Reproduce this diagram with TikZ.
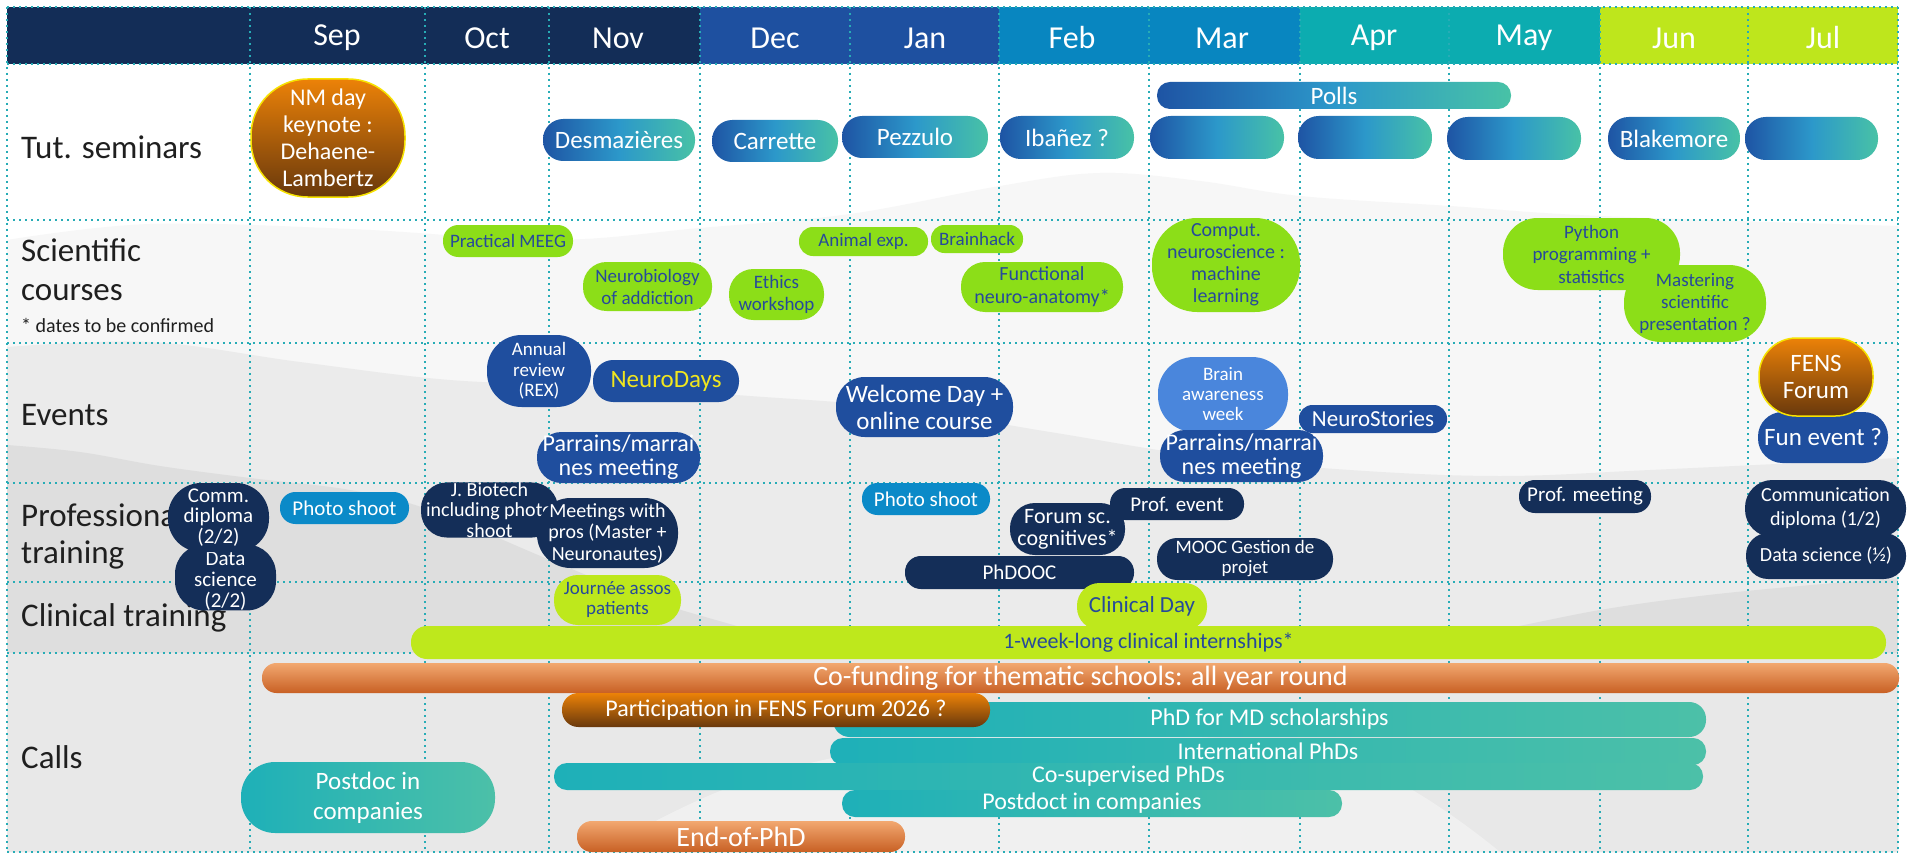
\documentclass[tikz,border=0pt]{standalone}
\usepackage{fontspec}
\setmainfont{Carlito}
\definecolor{hdNavy}{RGB}{19,45,87}
\definecolor{hdDJ}{RGB}{30,80,160}
\definecolor{hdFM}{RGB}{8,134,192}
\definecolor{hdAM}{RGB}{12,172,176}
\definecolor{hdJJ}{RGB}{190,230,28}
\definecolor{gridc}{RGB}{40,172,182}
\definecolor{tutA}{RGB}{30,84,164}
\definecolor{tutB}{RGB}{44,152,202}
\definecolor{tutC}{RGB}{72,194,166}
\definecolor{sciG}{RGB}{140,222,24}
\definecolor{clinG}{RGB}{190,232,28}
\definecolor{txtB}{RGB}{38,74,154}
\definecolor{evtB}{RGB}{31,78,158}
\definecolor{brainB}{RGB}{74,134,220}
\definecolor{photoB}{RGB}{11,138,200}
\definecolor{navyB}{RGB}{20,46,88}
\definecolor{orA}{RGB}{236,130,8}
\definecolor{orB}{RGB}{104,56,12}
\definecolor{yelB}{RGB}{246,226,0}
\definecolor{ndYel}{RGB}{240,230,30}
\definecolor{tealA}{RGB}{30,176,184}
\definecolor{tealB}{RGB}{76,192,168}
\definecolor{cfA}{RGB}{242,168,112}
\definecolor{cfB}{RGB}{200,96,36}
\newcommand\fsz[2]{\fontsize{#1}{#2}\selectfont}
\newcommand\pbox[7]{%
  \pgfmathsetmacro\pbw{#4-#3}%
  \pgfmathsetmacro\pbh{#6-#5}%
  \pgfmathsetmacro\pbr{0.48*min(\pbw,\pbh)}%
  \node[inner sep=0pt, minimum width=\pbw pt, minimum height=\pbh pt,
        rounded corners=\pbr pt, align=center, #2] (#1) at ({(#3+#4)/2},{(#5+#6)/2}) {#7};%
}
\begin{document}
\begin{tikzpicture}[x=1pt,y=-1pt,
  lbl/.style={font=\fsz{33}{38}, text=black!88, anchor=west, inner sep=0pt},
  mon/.style={font=\fsz{32}{36}, text=white, inner sep=0pt},
  gridln/.style={draw=gridc, line width=1.6pt, dash pattern=on 1.6pt off 4.4pt},
  tutbox/.style={left color=tutA, right color=tutC, middle color=tutB, text=white, font=\fsz{25}{28}},
  scibox/.style={fill=sciG, text=txtB, font=\fsz{19}{22}},
  clinbox/.style={fill=clinG, text=txtB},
  evtbox/.style={fill=evtB, text=white},
  navybox/.style={fill=navyB, text=white},
  orbox/.style={top color=orA, bottom color=orB, text=white, draw=yelB, line width=1.5pt},
  callbar/.style={left color=tealA, right color=tealB, text=white, font=\fsz{24}{27}},
  cfbox/.style={top color=cfA, bottom color=cfB, text=white}
]
\useasboundingbox (0,0) rectangle (1909,856);
\fill[white] (0,0) rectangle (1909,856);
% background mountains
\fill[black!3] plot[smooth, tension=0.6] coordinates {(7,240) (150,224) (350,229) (550,240) (700,228) (850,214) (1000,186) (1100,173) (1200,181) (1300,196) (1450,206) (1600,216) (1898,226)} -- (1898,852) -- (7,852) -- cycle;
\fill[black!8] plot[smooth, tension=0.6] coordinates {(7,347) (150,342) (300,362) (450,380) (600,386) (750,396) (900,408) (1050,432) (1200,456) (1350,470) (1500,476) (1650,470) (1898,458)} -- (1898,852) -- (7,852) -- cycle;
\fill[black!13] plot[smooth, tension=0.6] coordinates {(7,445) (80,452) (160,466) (250,478) (350,490) (430,510) (550,560) (650,600) (750,630) (820,653)} -- (820,852) -- (7,852) -- cycle;
\fill[black!13] plot[smooth, tension=0.6] coordinates {(1280,653) (1450,638) (1600,610) (1700,596) (1800,586) (1898,578)} -- (1898,852) -- (1280,852) -- cycle;
\fill[black!9] (7,653) rectangle (1898,852);
\fill[white, opacity=0.35] plot[smooth, tension=0.7] coordinates {(600,852) (750,780) (950,740) (1150,735) (1350,760) (1500,852)} -- cycle;
% header
\fill[hdNavy] (7,7) rectangle (700,64);
\fill[hdDJ] (700,7) rectangle (999,64);
\fill[hdFM] (999,7) rectangle (1300,64);
\fill[hdAM] (1300,7) rectangle (1600,64);
\fill[hdJJ] (1600,7) rectangle (1898,64);
\node[mon] (mSep) at (337,38) {Sep};
\node[mon] (mOct) at (487,38) {Oct};
\node[mon] (mNov) at (618,38) {Nov};
\node[mon] (mDec) at (775,38) {Dec};
\node[mon] (mJan) at (925,38) {Jan};
\node[mon] (mFeb) at (1072,38) {Feb};
\node[mon] (mMar) at (1222,38) {Mar};
\node[mon] (mApr) at (1374,38) {Apr};
\node[mon] (mMay) at (1524,38) {May};
\node[mon] (mJun) at (1674,38) {Jun};
\node[mon] (mJul) at (1823,38) {Jul};
% grid
\foreach \gx in {7,250,425,549,700,850,999,1149,1300,1449,1600,1748,1898}
  \draw[gridln] (\gx,7) -- (\gx,852);
\foreach \gy in {7,64,220,343,483,582,653,852}
  \draw[gridln] (7,\gy) -- (1898,\gy);
% row labels
\node[lbl] (lTut) at (21,147) {Tut. seminars};
\node[lbl] (lSci1) at (21,250) {Scientific};
\node[lbl] (lSci2) at (21,293) {courses};
\node[lbl, font=\fsz{20}{24}] (lSci3) at (21,325) {* dates to be confirmed};
\node[lbl] (lEvt) at (21,415) {Events};
\node[lbl] (lPro1) at (21,515) {Professional};
\node[lbl] (lPro2) at (21,555) {training};
\node[lbl] (lClin) at (21,618) {Clinical training};
\node[lbl] (lCall) at (21,757) {Calls};
% Tut. seminars
\pbox{nmday}{orbox, font=\fsz{24}{27}}{251}{405}{79}{197}{NM day\\keynote :\\Dehaene-\\Lambertz}
\pbox{desm}{tutbox}{543}{695}{119}{161}{Desmazières}
\pbox{carr}{tutbox}{712}{838}{120}{162}{Carrette}
\pbox{pezz}{tutbox}{842}{988}{116}{158}{Pezzulo}
\pbox{polls}{tutbox}{1157}{1511}{82}{109}{Polls}
\pbox{ibanez}{tutbox}{1000}{1134}{116}{159}{Ibañez ?}
\pbox{blankA}{tutbox}{1150}{1284}{116}{159}{}
\pbox{blankB}{tutbox}{1298}{1432}{116}{159}{}
\pbox{blankC}{tutbox}{1447}{1581}{117}{160}{}
\pbox{blake}{tutbox}{1608}{1740}{117}{160}{Blakemore}
\pbox{blankD}{tutbox}{1745}{1878}{117}{160}{}
% Scientific courses
\pbox{meeg}{scibox}{443}{573}{225}{257}{Practical MEEG}
\pbox{addic}{scibox}{583}{712}{262}{311}{Neurobiology\\of addiction}
\pbox{ethics}{scibox}{729}{824}{269}{320}{Ethics\\workshop}
\pbox{animal}{scibox}{799}{928}{227}{256}{Animal exp.}
\pbox{brainh}{scibox}{931}{1023}{225}{253}{Brainhack}
\pbox{funcn}{scibox, font=\fsz{20}{23}}{961}{1123}{262}{312}{Functional\\neuro-anatomy*}
\pbox{comput}{scibox, font=\fsz{20}{22}}{1152}{1300}{218}{312}{Comput.\\neuroscience :\\machine\\learning}
\pbox{python}{scibox, font=\fsz{19}{22.5}}{1503}{1680}{218}{290}{Python\\programming +\\statistics}
\pbox{master}{scibox, font=\fsz{19}{22}}{1624}{1766}{265}{342}{Mastering\\scientific\\presentation ?}
% Events
\pbox{annual}{evtbox, font=\fsz{19}{20.5}}{487}{591}{335}{407}{Annual\\review\\(REX)}
\pbox{neurodays}{evtbox, text=ndYel, font=\fsz{25}{28}}{593}{739}{360}{402}{NeuroDays}
\pbox{welcome}{evtbox, font=\fsz{25}{27}}{836}{1013}{377}{437}{Welcome Day +\\online course}
\pbox{parrA}{evtbox, font=\fsz{24}{24}}{537}{700}{432}{483}{Parrains/marrai\\nes meeting}
\pbox{brainaw}{fill=brainB, text=white, font=\fsz{19}{20}}{1158}{1288}{357}{432}{Brain\\awareness\\week}
\pbox{parrB}{evtbox, font=\fsz{24}{24}}{1160}{1323}{430}{482}{Parrains/marrai\\nes meeting}
\pbox{neurost}{evtbox, font=\fsz{23}{26}}{1299}{1447}{405}{433}{NeuroStories}
\pbox{fun}{evtbox, font=\fsz{25}{28}}{1758}{1888}{412}{463}{Fun event ?}
\pbox{fens}{orbox, font=\fsz{25}{27}}{1759}{1873}{338}{416}{FENS\\Forum}
% Professional training
\pbox{datasciB}{navybox, font=\fsz{21}{21}}{175}{276}{547}{608}{\rule{0pt}{21pt}Data\\science\\(2/2)}
\pbox{commB}{navybox, font=\fsz{21}{20.5}}{168}{269}{483}{552}{Comm.\\diploma\\(2/2)}
\pbox{photoA}{fill=photoB, text=white, font=\fsz{21}{24}}{280}{409}{492}{524}{Photo shoot}
\pbox{jbio}{navybox, font=\fsz{20}{20.5}}{421}{558}{483}{537}{J. Biotech\\including photo\\shoot}
\pbox{meet}{navybox, font=\fsz{20}{21.5}}{537}{678}{498}{568}{Meetings with\\pros (Master +\\Neuronautes)}
\pbox{photoB}{fill=photoB, text=white, font=\fsz{21}{24}}{862}{990}{483}{515}{Photo shoot}
\pbox{phdooc}{navybox, font=\fsz{21}{24}}{905}{1134}{556}{589}{PhDOOC}
\pbox{profev}{navybox, font=\fsz{21}{24}}{1110}{1244}{488}{520}{Prof. event}
\pbox{forum}{navybox, font=\fsz{22}{22}}{1010}{1125}{503}{555}{Forum sc.\\cognitives*}
\pbox{mooc}{navybox, font=\fsz{19}{20}}{1157}{1333}{538}{580}{MOOC Gestion de\\projet}
\pbox{profmeet}{navybox, font=\fsz{21}{24}}{1519}{1651}{480}{513}{Prof. meeting}
\pbox{datasciA}{navybox, font=\fsz{20}{23}}{1746}{1906}{533}{579}{Data science (½)}
\pbox{commA}{navybox, font=\fsz{20}{24}}{1745}{1906}{480}{537}{Communication\\diploma (1/2)}
% Clinical training
\pbox{journee}{clinbox, font=\fsz{19}{20}}{554}{681}{575}{625}{Journée assos\\patients}
\pbox{clinday}{clinbox, font=\fsz{23}{26}}{1077}{1207}{583}{630}{Clinical Day}
\pbox{intern}{clinbox, font=\fsz{22}{25}}{411}{1886}{626}{659}{1-week-long clinical internships*}
% Calls
\pbox{phdmd}{callbar}{833}{1706}{702}{737}{PhD for MD scholarships}
\pbox{intl}{callbar}{830}{1706}{738}{765}{International PhDs}
\pbox{cosup}{callbar}{554}{1703}{763}{790}{Co-supervised PhDs}
\pbox{postdoct}{callbar}{842}{1342}{790}{817}{Postdoct in companies}
\pbox{cofund}{cfbox, font=\fsz{28}{31}}{262}{1899}{663}{693}{Co-funding for thematic schools: all year round}
\pbox{partic}{top color=orA, bottom color=orB, text=white, font=\fsz{24}{27}}{562}{990}{693}{727}{Participation in FENS Forum 2026 ?}
\pbox{postdoc}{callbar, font=\fsz{25}{30}}{241}{495}{762}{833}{Postdoc in\\companies}
\pbox{endphd}{cfbox, font=\fsz{28}{31}}{577}{905}{821}{852}{End-of-PhD}
\end{tikzpicture}
\end{document}
